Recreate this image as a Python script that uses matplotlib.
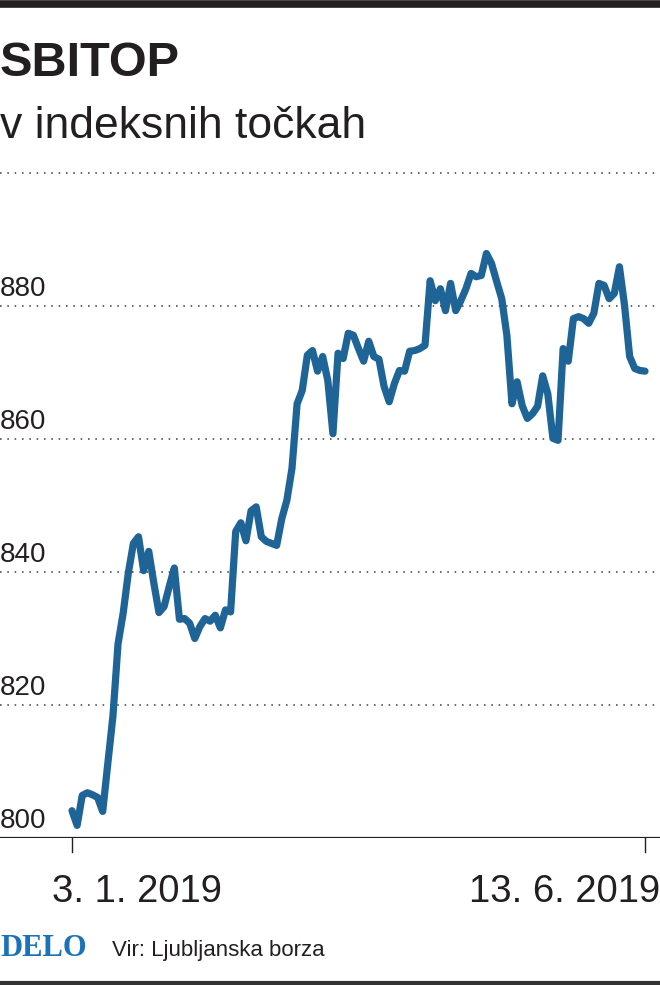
import matplotlib
matplotlib.use("Agg")
import matplotlib.pyplot as plt
from matplotlib.lines import Line2D

# ---- data ----
title = "SBITOP"
subtitle = "v indeksnih točkah"
source = "Vir: Ljubljanska borza"
logo = "DELO"
y_ticks = [800, 820, 840, 860, 880, 900]
y_tick_labels = ["800", "820", "840", "860", "880", ""]
x_tick_labels = ["3. 1. 2019", "13. 6. 2019"]
values = [
    804.1, 801.9, 806.4, 806.8, 806.5, 806.1, 804.0, 811.2, 818.3, 829.2,
    833.8, 839.8, 844.3, 845.3, 840.2, 843.1, 838.3, 833.9, 834.8, 837.8,
    840.6, 832.9, 833.0, 832.3, 830.0, 831.8, 833.0, 832.6, 833.5, 831.6,
    834.3, 834.0, 846.1, 847.4, 844.7, 849.2, 849.8, 845.3, 844.6, 844.3,
    844.0, 848.0, 850.8, 855.6, 865.3, 867.3, 872.6, 873.3, 870.2, 872.4,
    868.8, 860.8, 872.9, 872.1, 875.9, 875.6, 873.6, 871.7, 874.7, 872.4,
    872.0, 867.9, 865.6, 868.3, 870.3, 870.2, 873.2, 873.3, 873.6, 874.1,
    883.8, 880.8, 882.6, 879.3, 883.4, 879.3, 880.8, 882.6, 884.9, 884.4,
    884.6, 887.9, 886.4, 883.7, 881.1, 875.6, 865.3, 868.6, 865.0, 863.1,
    863.8, 864.9, 869.5, 866.8, 860.1, 859.8, 873.6, 871.7, 878.1, 878.4,
    878.1, 877.4, 878.9, 883.4, 883.1, 881.1, 881.9, 885.9, 880.1, 872.4,
    870.6, 870.3, 870.2,
]
days = list(range(len(values)))

W, H = 660, 985
fig = plt.figure(figsize=(W / 100, H / 100), dpi=100)
fig.patch.set_facecolor("white")

sans = ["Liberation Sans", "DejaVu Sans"]
dark = "#231f20"
blue = "#1f6497"

def fy(py):
    return 1 - py / H

def fx(px):
    return px / W

# axes: value 800 at y=838px, 6.65 px per unit
y0_px = 838
ppu = 6.65
top_px = 160
ymax = 800 + (y0_px - top_px) / ppu
ax = fig.add_axes([0, fy(y0_px), 1, (y0_px - top_px) / H])
n = len(values)
pxd = (645 - 72) / (n - 1)
ax.set_xlim(-72 / pxd, (n - 1) + (W - 645) / pxd)
ax.set_ylim(800, ymax)
ax.set_facecolor("none")
for s in ax.spines.values():
    s.set_visible(False)
ax.set_xticks([])
ax.set_yticks([])

# gridlines
for v in y_ticks[1:]:
    ax.axhline(v, color="#3a3a3a", lw=1.1, ls=(0, (1.0, 3.8)), zorder=1)
ax.axhline(800, color=dark, lw=1.6, zorder=2)

# y labels
for v, lab in zip(y_ticks, y_tick_labels):
    if lab:
        ax.annotate(lab, xy=(0, v), xycoords=("axes fraction", "data"),
                    xytext=(0, 7.2), textcoords="offset points",
                    ha="left", va="baseline", fontsize=20, color=dark,
                    family=sans)

# line
ax.plot(days, values, color=blue, lw=5.2, solid_joinstyle="round",
        solid_capstyle="round", zorder=3, clip_on=False)

# x ticks
for d in (days[0], days[-1]):
    ax.plot([d, d], [800, 800 - 14 / ppu], color=dark, lw=1.0, clip_on=False)

fig.text(fx(52), fy(902), x_tick_labels[0], ha="left", va="baseline",
         fontsize=27.5, color=dark, family=sans)
fig.text(fx(660), fy(902), x_tick_labels[1], ha="right", va="baseline",
         fontsize=27.5, color=dark, family=sans)

# titles
fig.text(fx(0), fy(76), title, ha="left", va="baseline", fontsize=35,
         fontweight="bold", color=dark, family=sans)
fig.text(fx(0), fy(138), subtitle, ha="left", va="baseline", fontsize=32,
         color=dark, family=sans)

# footer
fig.text(fx(0), fy(956), logo, ha="left", va="baseline", fontsize=22,
         fontweight="bold", color="#1a72b9",
         family=["Liberation Serif", "DejaVu Serif"])
fig.text(fx(112), fy(956), source, ha="left", va="baseline", fontsize=16,
         color=dark, family=sans)

# top & bottom bars
fig.add_artist(Line2D([0, 1], [fy(3.5), fy(3.5)], color=dark, lw=5.5,
                      transform=fig.transFigure))
fig.add_artist(Line2D([0, 1], [fy(983), fy(983)], color="#333333", lw=3,
                      transform=fig.transFigure))

fig.savefig("out.png", dpi=100, facecolor="white")
